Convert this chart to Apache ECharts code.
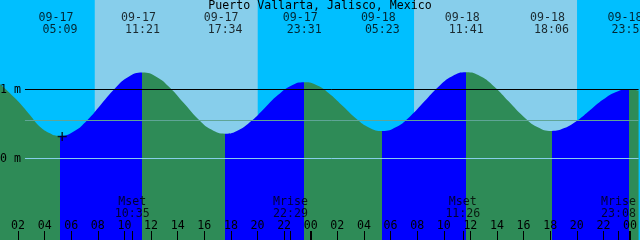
<!DOCTYPE html>
<html>
<head>
<meta charset="utf-8">
<script src="https://cdn.jsdelivr.net/npm/echarts@6/dist/echarts.min.js"></script>
<style>html,body{margin:0;padding:0;}#c{width:640px;height:240px;}</style>
</head>
<body>
<div id="c"></div>
<script>
// ---- data ----
const title = 'Puerto Vallarta, Jalisco, Mexico';
const days = ['09-17', '09-18'];
// tide height samples (hours since 09-17 00:00, metres)
const tideTimes = [0.645, 1.395, 2.145, 2.895, 3.645, 4.395, 4.897, 5.15, 6.183, 7.217, 8.25, 9.283, 10.317, 11.35,
  12.386, 13.422, 14.458, 15.494, 16.531, 17.567, 18.558, 19.55, 20.542, 21.533, 22.525, 23.517,
  24.494, 25.472, 26.45, 27.428, 28.405, 29.383, 30.433, 31.483, 32.533, 33.583, 34.633, 35.683,
  36.753, 37.822, 38.892, 39.961, 41.031, 42.1, 43.07, 44.04, 45.01, 45.98, 46.95, 47.92, 48.645];
const tideHeights = [1.08, 0.945, 0.80, 0.63, 0.46, 0.365, 0.33, 0.327, 0.391, 0.559, 0.788, 1.016, 1.184, 1.245,
  1.186, 1.024, 0.803, 0.581, 0.419, 0.36, 0.41, 0.546, 0.733, 0.919, 1.055, 1.105,
  1.058, 0.929, 0.753, 0.576, 0.447, 0.40, 0.457, 0.613, 0.825, 1.038, 1.193, 1.25,
  1.193, 1.038, 0.825, 0.613, 0.457, 0.40, 0.441, 0.551, 0.703, 0.854, 0.964, 1.005, 0.985];
// high / low tide events
const extremeDates = ['09-17', '09-17', '09-17', '09-17', '09-18', '09-18', '09-18', '09-18'];
const extremeClock = ['05:09', '11:21', '17:34', '23:31', '05:23', '11:41', '18:06', '23:55'];
const firstExtremeIsLow = true;
// moon events
const moonNames = ['Mset', 'Mrise', 'Mset', 'Mrise'];
const moonDates = ['09-17', '09-17', '09-18', '09-18'];
const moonClock = ['10:35', '22:29', '11:26', '23:08'];
// sun (daylight) periods
const sunDates = ['09-17', '09-18'];
const sunriseClock = ['07:46', '07:46'];
const sunsetClock = ['20:01', '20:01'];
// reference levels (m)
const levelValues = [1, 0.55, 0];
const levelLabels = ['1 m', '', '0 m'];
// "+" marker
const markerTimes = [5.32];
const markerHeights = [0.32];
// hour ticks
const hourTicks = [2, 4, 6, 8, 10, 12, 14, 16, 18, 20, 22, 24, 26, 28, 30, 32, 34, 36, 38, 40, 42, 44, 46, 48];
const midnightTicks = [24, 48];

// ---- helpers ----
function toHours(date, clock) {
  const d = days.indexOf(date);
  const [h, m] = clock.split(':').map(Number);
  return d * 24 + h + m / 60;
}
const extremeTimes = extremeClock.map((c, i) => toHours(extremeDates[i], c));
const moonTimes = moonClock.map((c, i) => toHours(moonDates[i], c));

const XMIN = 0.645, XMAX = 48.645;
const YMAX = 158.5 / 69, YMIN = -81.5 / 69;
const LINE_START = 2.52;
const FONT = 'DejaVu Sans Mono';
const FS = 11.6;
const GREEN = '#2E8B57', BLUE = '#0000FF';
const NIGHT = '#00BFFF', DAY = '#87CEEB';

const pieces = [];
let rising = !firstExtremeIsLow;
extremeTimes.forEach((t, i) => {
  const p = { lt: t, color: rising ? BLUE : GREEN };
  if (i > 0) p.gte = extremeTimes[i - 1];
  pieces.push(p);
  rising = !rising;
});
pieces.push({ gte: extremeTimes[extremeTimes.length - 1], color: rising ? BLUE : GREEN });

const textBase = { color: '#000', fontFamily: FONT, fontSize: FS };

const chart = echarts.init(document.getElementById('c'), null, { renderer: 'canvas' });
chart.setOption({
  animation: false,
  backgroundColor: NIGHT,
  title: {
    text: title, left: 'center', top: 0, padding: 0,
    textStyle: Object.assign({ fontWeight: 'normal', lineHeight: 11 }, textBase)
  },
  grid: { left: 0, right: 0, top: 0, bottom: 0, show: true, backgroundColor: NIGHT, borderWidth: 0 },
  xAxis: [{
    type: 'value', min: XMIN, max: XMAX, z: 10, position: 'bottom',
    axisLine: { show: false, onZero: false }, splitLine: { show: false },
    axisTick: { show: true, inside: true, length: 9, customValues: hourTicks.concat(moonTimes),
      lineStyle: { color: '#000', width: 1 } },
    axisLabel: Object.assign({ show: true, inside: true, margin: 14, verticalAlign: 'middle',
      customValues: hourTicks,
      formatter: v => String(Math.round(v) % 24).padStart(2, '0') }, textBase)
  }, {
    type: 'value', min: XMIN, max: XMAX, z: 10, position: 'bottom',
    axisLine: { show: false, onZero: false }, splitLine: { show: false }, axisLabel: { show: false },
    axisTick: { show: true, inside: true, length: 9, customValues: midnightTicks,
      lineStyle: { color: '#000', width: 2 } }
  }],
  yAxis: {
    type: 'value', min: YMIN, max: YMAX, show: false, splitLine: { show: false }
  },
  visualMap: {
    type: 'piecewise', show: false, dimension: 0, seriesIndex: 1, pieces: pieces
  },
  series: [
    {
      name: 'sky', type: 'line', data: [], z: 1, silent: true,
      markArea: {
        silent: true,
        itemStyle: { color: DAY },
        data: sunriseClock.map((c, i) => [{ xAxis: toHours(sunDates[i], c) }, { xAxis: toHours(sunDates[i], sunsetClock[i]) }])
      },
      markLine: {
        silent: true, symbol: ['none', 'none'], label: { show: false },
        lineStyle: { color: '#000', width: 1, type: 'solid' },
        data: [[{ coord: [LINE_START, levelValues[0]] }, { coord: [XMAX, levelValues[0]] }]]
      }
    },
    {
      name: 'tide', type: 'line', z: 2, smooth: 0.5, showSymbol: false, silent: true,
      data: tideTimes.map((t, i) => [t, tideHeights[i]]),
      lineStyle: { opacity: 0 },
      areaStyle: { origin: 'start', opacity: 1 }
    },
    {
      name: 'levels', type: 'line', data: [], z: 3, silent: true,
      markLine: {
        silent: true, symbol: ['none', 'none'],
        label: Object.assign({ show: true, position: 'start', distance: 4, formatter: '{b}' }, textBase),
        data: [
          [{ name: levelLabels[0], coord: [LINE_START, levelValues[0]], lineStyle: { color: 'rgba(0,0,0,0)', width: 1 } }, { coord: [XMAX, levelValues[0]] }],
          [{ name: levelLabels[1], coord: [LINE_START, levelValues[1]], lineStyle: { color: '#5fa596', width: 1, type: 'solid' }, label: { show: false } }, { coord: [XMAX, levelValues[1]] }],
          [{ name: levelLabels[2], coord: [LINE_START, levelValues[2]], lineStyle: { color: DAY, width: 1, type: 'solid' } }, { coord: [XMAX, levelValues[2]] }]
        ]
      }
    },
    {
      name: 'marker', type: 'scatter', z: 4, silent: true,
      symbol: 'path://M0 3.75H9V5.25H0Z M3.75 0H5.25V9H3.75Z', symbolSize: 9,
      itemStyle: { color: '#000' },
      data: markerTimes.map((t, i) => [t, markerHeights[i]])
    },
    {
      name: 'extremeDates', type: 'scatter', z: 5, silent: true, symbolSize: 0,
      data: extremeTimes.map(t => [t, YMAX]),
      label: Object.assign({ show: true, position: 'inside', align: 'center', verticalAlign: 'middle',
        offset: [-4, 17.7], formatter: p => extremeDates[p.dataIndex] }, textBase)
    },
    {
      name: 'extremeTimes', type: 'scatter', z: 5, silent: true, symbolSize: 0,
      data: extremeTimes.map(t => [t, YMAX]),
      label: Object.assign({ show: true, position: 'inside', align: 'center', verticalAlign: 'middle',
        offset: [0, 29.5], formatter: p => extremeClock[p.dataIndex] }, textBase)
    },
    {
      name: 'moonNames', type: 'scatter', z: 5, silent: true, symbolSize: 0,
      data: moonTimes.map(t => [t, YMIN]),
      label: Object.assign({ show: true, position: 'inside', align: 'center', verticalAlign: 'middle',
        offset: [0, -37.8], formatter: p => moonNames[p.dataIndex] }, textBase)
    },
    {
      name: 'moonTimes', type: 'scatter', z: 5, silent: true, symbolSize: 0,
      data: moonTimes.map(t => [t, YMIN]),
      label: Object.assign({ show: true, position: 'inside', align: 'center', verticalAlign: 'middle',
        offset: [0, -26.5], formatter: p => moonClock[p.dataIndex] }, textBase)
    }
  ]
});
</script>
</body>
</html>
